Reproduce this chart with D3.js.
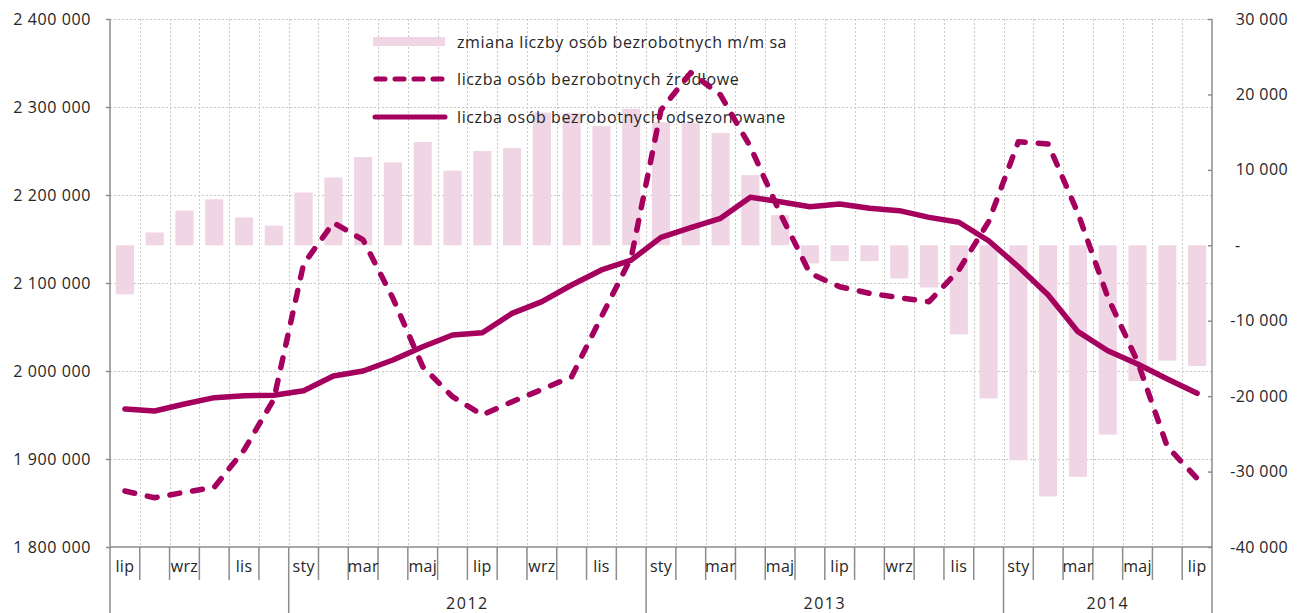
<!DOCTYPE html>
<html>
<head>
<meta charset="utf-8">
<script src="https://cdn.jsdelivr.net/npm/d3@7"></script>
<style>
  body { margin: 0; background: #fff; }
  text { font-family: "Open Sans", sans-serif; fill: #262626; }
</style>
</head>
<body>
<div id="chart"></div>
<script>
// miesiące od lipca 2011 do lipca 2014
var months = ["lip","sie","wrz","paź","lis","gru",
  "sty","lut","mar","kwi","maj","cze","lip","sie","wrz","paź","lis","gru",
  "sty","lut","mar","kwi","maj","cze","lip","sie","wrz","paź","lis","gru",
  "sty","lut","mar","kwi","maj","cze","lip"];
var years = [{name: "2012", from: 6, to: 18}, {name: "2013", from: 18, to: 30}, {name: "2014", from: 30, to: 37}];

// zmiana m/m sa (prawa oś)
var change = [-6500, 1700, 4600, 6100, 3700, 2600,
  7000, 9000, 11700, 11000, 13700, 9900, 12500, 12900, 17600, 17500, 15800, 18100,
  16300, 16200, 14900, 9300, 4000, -2400, -2100, -2100, -4400, -5600, -11800, -20300,
  -28500, -33300, -30700, -25100, -18000, -15300, -16000];

// źródłowe (lewa oś)
var raw = [1863600, 1856000, 1862200, 1867800, 1910200, 1967800,
  2121600, 2168500, 2148900, 2082600, 2004900, 1970800, 1950000, 1965100, 1979000, 1993500, 2061700, 2129000,
  2296600, 2339000, 2313600, 2254900, 2179200, 2111000, 2095800, 2088300, 2083300, 2078800, 2114800, 2169700,
  2260600, 2258000, 2179200, 2084000, 2010600, 1914000, 1878000];

// odsezonowane (lewa oś)
var sa = [1956800, 1954500, 1962500, 1969700, 1972000, 1972400,
  1977600, 1994300, 2000000, 2012500, 2027600, 2040900, 2043500, 2065500, 2078800, 2097700, 2114800, 2126000,
  2151900, 2162900, 2173500, 2197400, 2192400, 2186700, 2189800, 2184900, 2182200, 2174600, 2169000, 2148000,
  2118500, 2086400, 2044700, 2023000, 2008000, 1990900, 1974700];

var legendLabels = ["zmiana liczby osób bezrobotnych m/m sa",
  "liczba osób bezrobotnych źródłowe",
  "liczba osób bezrobotnych odsezonowane"];

var width = 1303, height = 613;
var pLeft = 110, pRight = 1212, pTop = 19, pBottom = 547;
var magenta = "#a6005f", pink = "#f0d6e5", axisGray = "#8c8c8c", gridGray = "#c8c8c8";

var loc = d3.formatLocale({decimal: ",", thousands: "\u00a0", grouping: [3], currency: ["", ""]});
var fmt = loc.format(",");

var svg = d3.select("#chart").append("svg")
  .attr("width", width)
  .attr("height", height);

var x = d3.scaleBand().domain(d3.range(months.length)).range([pLeft, pRight]);
var step = x.step();
var cx = function(i) { return x(i) + step / 2; };

var yL = d3.scaleLinear().domain([1800000, 2400000]).range([pBottom, pTop]);
var yR = d3.scaleLinear().domain([-40000, 30000]).range([pBottom, pTop]);

// siatka
var grid = svg.append("g").attr("stroke", gridGray).attr("stroke-dasharray", "2,2").attr("stroke-width", 1);
grid.selectAll("line.h").data(yL.ticks(6).filter(function(d) { return d > 1800000; }))
  .enter().append("line")
  .attr("x1", pLeft).attr("x2", pRight)
  .attr("y1", function(d) { return Math.round(yL(d)) + 0.5; })
  .attr("y2", function(d) { return Math.round(yL(d)) + 0.5; });
grid.selectAll("line.v").data(d3.range(1, months.length))
  .enter().append("line")
  .attr("x1", function(i) { return Math.round(x(i)) + 0.5; })
  .attr("x2", function(i) { return Math.round(x(i)) + 0.5; })
  .attr("y1", pTop).attr("y2", pBottom);

// słupki
var barW = step * 0.61;
svg.append("g").selectAll("rect").data(change).enter().append("rect")
  .attr("x", function(d, i) { return cx(i) - barW / 2; })
  .attr("width", barW)
  .attr("y", function(d) { return yR(Math.max(0, d)); })
  .attr("height", function(d) { return Math.abs(yR(d) - yR(0)); })
  .attr("fill", pink);

// osie
var axL = svg.append("g").attr("transform", "translate(" + pLeft + ",0)")
  .call(d3.axisLeft(yL).ticks(6).tickSize(4).tickPadding(15).tickFormat(fmt));
axL.select(".domain").remove();
axL.selectAll("line").attr("stroke", axisGray).attr("stroke-width", 1.5);
axL.selectAll("text").attr("font-size", 16).attr("font-family", "Open Sans").attr("letter-spacing", 0.6);

var axR = svg.append("g").attr("transform", "translate(" + pRight + ",0)")
  .call(d3.axisRight(yR).ticks(7).tickSize(-4).tickPadding(0)
    .tickFormat(function(d) { return d === 0 ? "-" : fmt(d).replace("\u2212", "-"); }));
axR.select(".domain").remove();
axR.selectAll("line").attr("stroke", axisGray).attr("stroke-width", 1.5);
axR.selectAll("text").attr("font-size", 16).attr("font-family", "Open Sans").attr("letter-spacing", 0.4)
  .attr("text-anchor", function(d) { return d === 0 ? "start" : "end"; })
  .attr("x", function(d) { return d === 0 ? 23 : 76; });

var frame = svg.append("g").attr("stroke", axisGray).attr("stroke-width", 1.5);
frame.append("line").attr("x1", pLeft).attr("x2", pLeft).attr("y1", pTop).attr("y2", height);
frame.append("line").attr("x1", pRight).attr("x2", pRight).attr("y1", pTop).attr("y2", height);
frame.append("line").attr("x1", pLeft).attr("x2", pRight).attr("y1", pBottom).attr("y2", pBottom);

// podziałka miesięcy
frame.selectAll("line.m").data(d3.range(1, months.length)).enter().append("line")
  .attr("x1", function(i) { return x(i); })
  .attr("x2", function(i) { return x(i); })
  .attr("y1", pBottom)
  .attr("y2", function(i) { return years.some(function(y) { return y.from === i; }) ? height : 580; });

var axX = svg.append("g").attr("transform", "translate(0," + pBottom + ")")
  .call(d3.axisBottom(x).tickSize(0).tickPadding(14)
    .tickValues(d3.range(0, months.length, 2))
    .tickFormat(function(i) { return months[i]; }));
axX.select(".domain").remove();
axX.selectAll("text").attr("font-size", 16).attr("font-family", "Open Sans").attr("letter-spacing", 0.3);

svg.append("g").selectAll("text").data(years).enter().append("text")
  .attr("x", function(d) { return (x(d.from) + (d.to < months.length ? x(d.to) : pRight)) / 2; })
  .attr("y", 609)
  .attr("text-anchor", "middle")
  .attr("font-size", 16)
  .attr("letter-spacing", 1.5)
  .text(function(d) { return d.name; });

// legenda
var lg = svg.append("g");
lg.append("rect").attr("x", 373).attr("y", 37).attr("width", 72).attr("height", 9).attr("fill", pink);
lg.append("line").attr("x1", 376).attr("x2", 445).attr("y1", 79).attr("y2", 79)
  .attr("stroke", magenta).attr("stroke-width", 5).attr("stroke-dasharray", "9,10").attr("stroke-linecap", "round");
lg.append("line").attr("x1", 375).attr("x2", 445).attr("y1", 117).attr("y2", 117)
  .attr("stroke", magenta).attr("stroke-width", 5).attr("stroke-linecap", "round");
lg.selectAll("text").data(legendLabels).enter().append("text")
  .attr("x", 457)
  .attr("y", function(d, i) { return [42, 79, 117][i]; })
  .attr("dy", "0.35em")
  .attr("font-size", 16)
  .attr("letter-spacing", 0.6)
  .text(function(d) { return d; });

// linie
var line = d3.line()
  .x(function(d, i) { return cx(i); })
  .y(function(d) { return yL(d); });

svg.append("path").datum(sa)
  .attr("d", line)
  .attr("fill", "none")
  .attr("stroke", magenta)
  .attr("stroke-width", 5.5)
  .attr("stroke-linejoin", "round")
  .attr("stroke-linecap", "round");

svg.append("path").datum(raw)
  .attr("d", line)
  .attr("fill", "none")
  .attr("stroke", magenta)
  .attr("stroke-width", 5.5)
  .attr("stroke-dasharray", "10,13")
  .attr("stroke-linejoin", "round")
  .attr("stroke-linecap", "round");
</script>
</body>
</html>
